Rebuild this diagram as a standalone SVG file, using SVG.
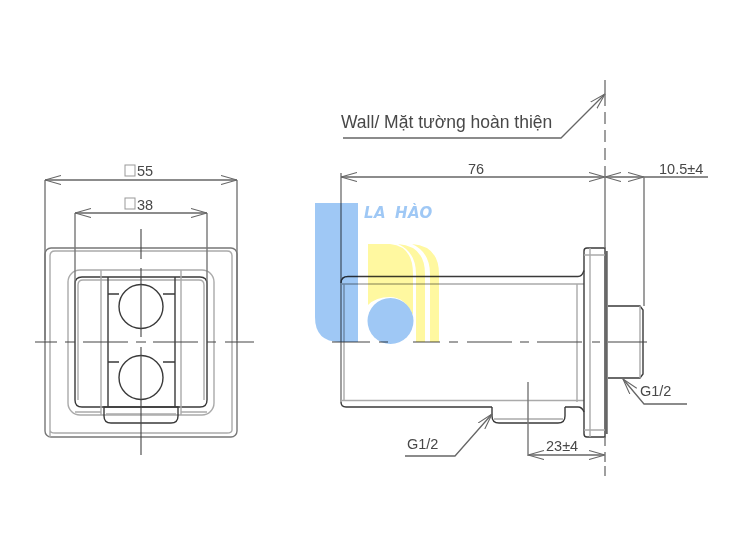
<svg xmlns="http://www.w3.org/2000/svg" width="750" height="560" viewBox="0 0 750 560">
<defs>
<marker id="arr" viewBox="0 0 16 10" refX="16" refY="5" markerWidth="16" markerHeight="10" markerUnits="userSpaceOnUse" orient="auto-start-reverse"><path d="M0 0.5L16 5L0 9.5" fill="none" stroke="#666" stroke-width="1.100"/></marker>
</defs>
<style>
text{font-family:"Liberation Sans",Arial,sans-serif;font-size:14.500px;fill:#484848}
.k{fill:none;stroke:#3a3a3a;stroke-width:1.400}
.l{fill:none;stroke:#aaa;stroke-width:1.400}
.m{fill:none;stroke:#777;stroke-width:1.400}
.c{fill:none;stroke:#444;stroke-width:1.100}
.dm{fill:none;stroke:#666;stroke-width:1.300}
.a{marker-start:url(#arr);marker-end:url(#arr)}
.e{marker-end:url(#arr)}
</style>
<rect width="750" height="560" fill="#fff"/>
<g id="front-view">
<rect x="45" y="248" width="192" height="189" rx="6" class="m"/>
<path d="M50 437V256q0-5 5-5H227q5 0 5 5V430q0 3-5 3H55q-5 0-5-3" class="l"/>
<rect x="68" y="270" width="146" height="145" rx="12" class="l"/>
<path d="M75 284q0-7 7-7H200q7 0 7 7V400q0 7-7 7H82q-7 0-7-7Z" class="k"/>
<path d="M78 400V285q0-5 5-5H199q5 0 5 5V400" class="l"/>
<path d="M101 270V415M181 270V415M75 412H101M181 412H207" class="l"/>
<path d="M108 277V407M175 277V407M108 294H119M163 294H175M108 362H119M163 362H175" class="k"/>
<circle cx="141" cy="306.500" r="22" class="k"/>
<circle cx="141" cy="377.500" r="22" class="k"/>
<path d="M104 407V416q0 7 7 7H171q7 0 7-7V407Z" class="k"/>
<path d="M106 414H176" class="l"/>
<path d="M35 342H57M65 342H75M83 342H128M136 342H146M153 342H198M207 342H216M225 342H254" class="c"/>
<path d="M141 229V259M141 268V337M141 347V455" class="c"/>
<path d="M45 180V340M237 180V340M75 213V330M207 213V330" class="m"/>
</g>
<g id="side-view">
<path d="M341 173V402" class="m"/>
<path d="M344 400V284" class="l"/>
<path d="M341 283q0-6.500 7-6.500H578q4 0 6-6" class="k"/>
<path d="M341 284H584M341 400.500H584M577 284V402" class="l"/>
<path d="M341 402q0 5 5 5H492M565 407H578q4 0 6 5" class="k"/>
<path d="M492 407V416q0 7 7 7H558q7 0 7-7V407" class="k"/>
<path d="M494 419H563" class="l"/>
<path d="M587 248H605V437H587q-3 0-3-3V251q0-3 3-3Z" class="k"/>
<path d="M584 255H605M584 430H605M590 248V437" class="l"/>
<path d="M606.500 251V434" fill="none" stroke="#666" stroke-width="2.500"/>
<path d="M608 306H640L643 310V374L640 378H608" class="k"/>
<path d="M640 306V378" class="l"/>
<path d="M332 342H370M379 342H388M413 342H440M449 342H458M467 342H512M520 342H529M537 342H582M592 342H600M608 342H647" class="c"/>
</g>
<g id="connectors">
<path d="M45 180H237" class="dm a"/>
<path d="M75 213H207" class="dm a"/>
<path d="M341 177H605" class="dm a"/>
<path d="M605 177H644" class="dm a"/>
<path d="M644 177H708" class="dm"/>
<path d="M528 455H605" class="dm a"/>
<path d="M343 138H561L605 94" class="dm e"/>
<path d="M687 404H644L623 379" class="dm e"/>
<path d="M405 456H455L492 414" class="dm e"/>
<path d="M605 80V106M605 112V124M605 130V142M605 148V160M605 166V178" class="m"/>
<path d="M605 178V248M605 437V446M605 452V462M605 466V476" class="m"/>
<path d="M644 177V306M528 382V456" class="m"/>
</g>
<g id="labels">
<rect x="125" y="165" width="10" height="11" fill="none" stroke="#999"/>
<text x="137" y="176">55</text>
<rect x="125" y="198" width="10" height="11" fill="none" stroke="#999"/>
<text x="137" y="210">38</text>
<text x="341" y="128" style="font-size:17.500px">Wall/ Mặt tường hoàn thiện</text>
<text x="468" y="174">76</text>
<text x="659" y="174">10.5±4</text>
<text x="640" y="396">G1/2</text>
<text x="407" y="449">G1/2</text>
<text x="546" y="451">23±4</text>
</g>
<g id="logo" style="mix-blend-mode:multiply">
<path d="M315 203H358V342H340Q315 342 315 317Z" fill="#9fc8f5"/>
<path d="M368 244H390Q413 246 413 274V315Q405 297 390 297Q376 297 368 305Z" fill="#fff8a0"/>
<path d="M398 244Q425 246 425 274V342H416V274Q416 252 398 244Z" fill="#fff8a0"/>
<path d="M412 244Q439 246 439 274V342H430V274Q430 252 412 244Z" fill="#fff8a0"/>
<circle cx="390.500" cy="321" r="23" fill="#9fc8f5"/>
<text x="364" y="218" style="font-family:'DejaVu Sans',sans-serif;font-size:15px;font-weight:bold;font-style:italic;fill:#9fc8f5;letter-spacing:0.500px;word-spacing:3px">LA HÀO</text>
</g>
</svg>
